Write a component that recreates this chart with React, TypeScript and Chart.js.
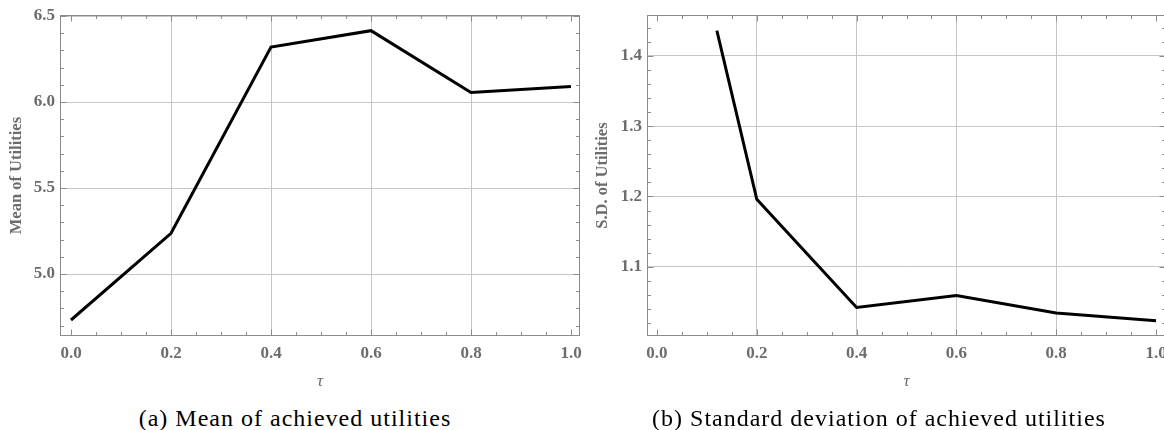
import React, { useEffect, useRef } from "react";
import { Chart, registerables } from "chart.js";

Chart.register(...registerables);

// ---- data ----
const tauMean = [0, 0.2, 0.4, 0.6, 0.8, 1.0];
const meanUtilities = [4.733, 5.237, 6.32, 6.415, 6.056, 6.091];

const tauSD = [0.12, 0.2, 0.4, 0.6, 0.8, 1.0];
const sdUtilities = [1.436, 1.196, 1.042, 1.059, 1.034, 1.023];

const xTickLabels = [0, 0.2, 0.4, 0.6, 0.8, 1.0];
const meanYTickLabels = [5.0, 5.5, 6.0, 6.5];
const sdYTickLabels = [1.1, 1.2, 1.3, 1.4];

const xTitle = "τ";
const meanYTitle = "Mean of Utilities";
const sdYTitle = "S.D. of Utilities";
const captionA = "(a) Mean of achieved utilities";
const captionB = "(b) Standard deviation of achieved utilities";

// ---- styling ----
const LABEL_COLOR = "#6c6c6c";
const FRAME_COLOR = "#8c8c8c";
const GRID_COLOR = "#c6c6c6";
const TICK_FONT = { family: "'Liberation Serif', serif", size: 17, weight: "bold" as const };

type PanelCfg = {
  xs: number[];
  ys: number[];
  xTicks: number[];
  yTicks: number[];
  xMin: number;
  xMax: number;
  yMin: number;
  yMax: number;
  xMinor: number;
  xMajor: number;
  yMinor: number;
  yMajor: number;
  yAxisWidth: number;
  padRight: number;
  yTitle: string;
  yTitleX: number;
};

function framePlugin(cfg: PanelCfg) {
  return {
    id: "mmaFrame",
    afterDraw(chart: any) {
      const { ctx, chartArea: a, scales } = chart;
      const xs = scales.x;
      const ys = scales.y;
      ctx.save();
      ctx.strokeStyle = FRAME_COLOR;
      ctx.lineWidth = 1;
      const L = Math.round(a.left) + 0.5;
      const R = Math.round(a.right) - 0.5;
      const T = Math.round(a.top) + 0.5;
      const B = Math.round(a.bottom) - 0.5;
      ctx.strokeRect(L, T, R - L, B - T);
      const seg = (x1: number, y1: number, x2: number, y2: number) => {
        ctx.beginPath();
        ctx.moveTo(x1, y1);
        ctx.lineTo(x2, y2);
        ctx.stroke();
      };
      const isMajor = (v: number, step: number) => Math.abs(v / step - Math.round(v / step)) < 1e-6;
      for (let k = Math.ceil(cfg.xMin / cfg.xMinor - 1e-9); k * cfg.xMinor <= cfg.xMax + 1e-9; k++) {
        const v = k * cfg.xMinor;
        const len = isMajor(v, cfg.xMajor) ? 6 : 3.5;
        const px = Math.round(xs.getPixelForValue(v)) + 0.5;
        seg(px, B, px, B - len);
        seg(px, T, px, T + len);
      }
      for (let k = Math.ceil(cfg.yMin / cfg.yMinor - 1e-9); k * cfg.yMinor <= cfg.yMax + 1e-9; k++) {
        const v = k * cfg.yMinor;
        const len = isMajor(v, cfg.yMajor) ? 6 : 3.5;
        const py = Math.round(ys.getPixelForValue(v)) + 0.5;
        seg(L, py, L + len, py);
        seg(R, py, R - len, py);
      }
      ctx.fillStyle = LABEL_COLOR;
      ctx.textAlign = "center";
      ctx.textBaseline = "middle";
      ctx.font = "italic 17px 'Liberation Serif', serif";
      ctx.fillText(xTitle, (a.left + a.right) / 2, 382);
      ctx.save();
      ctx.translate(cfg.yTitleX, (a.top + a.bottom) / 2);
      ctx.rotate(-Math.PI / 2);
      ctx.font = "bold 16.5px 'Liberation Serif', serif";
      ctx.fillText(cfg.yTitle, 0, 0);
      ctx.restore();
      ctx.restore();
    },
  };
}

function Panel({ cfg, left }: { cfg: PanelCfg; left: number }) {
  const ref = useRef<HTMLCanvasElement | null>(null);
  useEffect(() => {
    if (!ref.current) return;
    const gridColor = (c: any, lo: number, hi: number) =>
      c.tick && (Math.abs(c.tick.value - lo) < 1e-9 || Math.abs(c.tick.value - hi) < 1e-9)
        ? "rgba(0,0,0,0)"
        : GRID_COLOR;
    const chart = new Chart(ref.current, {
      type: "line",
      data: {
        datasets: [
          {
            data: cfg.xs.map((x, i) => ({ x, y: cfg.ys[i] })),
            borderColor: "#000000",
            borderWidth: 3,
            pointRadius: 0,
            fill: false,
            tension: 0,
            borderJoinStyle: "miter",
          },
        ],
      },
      options: {
        animation: false,
        responsive: false,
        devicePixelRatio: 1,
        layout: { padding: { left: 0, right: cfg.padRight, top: 15, bottom: 0 } },
        plugins: { legend: { display: false }, tooltip: { enabled: false } },
        scales: {
          x: {
            type: "linear",
            min: cfg.xMin,
            max: cfg.xMax,
            afterBuildTicks: (s: any) => {
              s.ticks = cfg.xTicks.map((v) => ({ value: v }));
            },
            afterFit: (s: any) => {
              s.height = 64;
            },
            grid: {
              drawTicks: false,
              lineWidth: 1,
              color: (c: any) => gridColor(c, 0, 1),
            },
            border: { display: false },
            ticks: {
              font: TICK_FONT,
              color: LABEL_COLOR,
              padding: 7,
              maxRotation: 0,
              autoSkip: false,
              callback: (v: any) => Number(v).toFixed(1),
            },
          },
          y: {
            type: "linear",
            min: cfg.yMin,
            max: cfg.yMax,
            afterBuildTicks: (s: any) => {
              s.ticks = cfg.yTicks.map((v) => ({ value: v }));
            },
            afterFit: (s: any) => {
              s.width = cfg.yAxisWidth;
            },
            grid: {
              drawTicks: false,
              lineWidth: 1,
              color: GRID_COLOR,
            },
            border: { display: false },
            ticks: {
              font: TICK_FONT,
              color: LABEL_COLOR,
              padding: 5,
              autoSkip: false,
              callback: (v: any) => Number(v).toFixed(1),
            },
          },
        },
      } as any,
      plugins: [framePlugin(cfg)],
    });
    return () => chart.destroy();
  }, [cfg]);
  return (
    <canvas
      ref={ref}
      width={600}
      height={400}
      style={{ position: "absolute", left, top: 0, width: 600, height: 400 }}
    />
  );
}

const cfgA: PanelCfg = {
  xs: tauMean,
  ys: meanUtilities,
  xTicks: xTickLabels,
  yTicks: meanYTickLabels,
  xMin: -0.022,
  xMax: 1.018,
  yMin: 4.64,
  yMax: 6.505,
  xMinor: 0.05,
  xMajor: 0.2,
  yMinor: 0.1,
  yMajor: 0.5,
  yAxisWidth: 60,
  padRight: 20,
  yTitle: meanYTitle,
  yTitleX: 17,
};

const cfgB: PanelCfg = {
  xs: tauSD,
  ys: sdUtilities,
  xTicks: xTickLabels,
  yTicks: sdYTickLabels,
  xMin: -0.02,
  xMax: 1.02,
  yMin: 1.0014,
  yMax: 1.458,
  xMinor: 0.05,
  xMajor: 0.2,
  yMinor: 0.02,
  yMajor: 0.1,
  yAxisWidth: 66,
  padRight: 15,
  yTitle: sdYTitle,
  yTitleX: 22,
};

const captionStyle: React.CSSProperties = {
  position: "absolute",
  top: 406,
  fontFamily: "'Liberation Serif', serif",
  fontSize: 24,
  lineHeight: "24px",
  letterSpacing: 1,
  color: "#000",
  whiteSpace: "nowrap",
  transform: "translateX(-50%)",
};

export default function App() {
  return (
    <div
      style={{
        position: "absolute",
        left: 0,
        top: 0,
        width: 1164,
        height: 430,
        overflow: "hidden",
        background: "#fff",
      }}
    >
      <Panel cfg={cfgA} left={0} />
      <Panel cfg={cfgB} left={581} />
      <div style={{ ...captionStyle, left: 295 }}>{captionA}</div>
      <div style={{ ...captionStyle, left: 879 }}>{captionB}</div>
    </div>
  );
}
